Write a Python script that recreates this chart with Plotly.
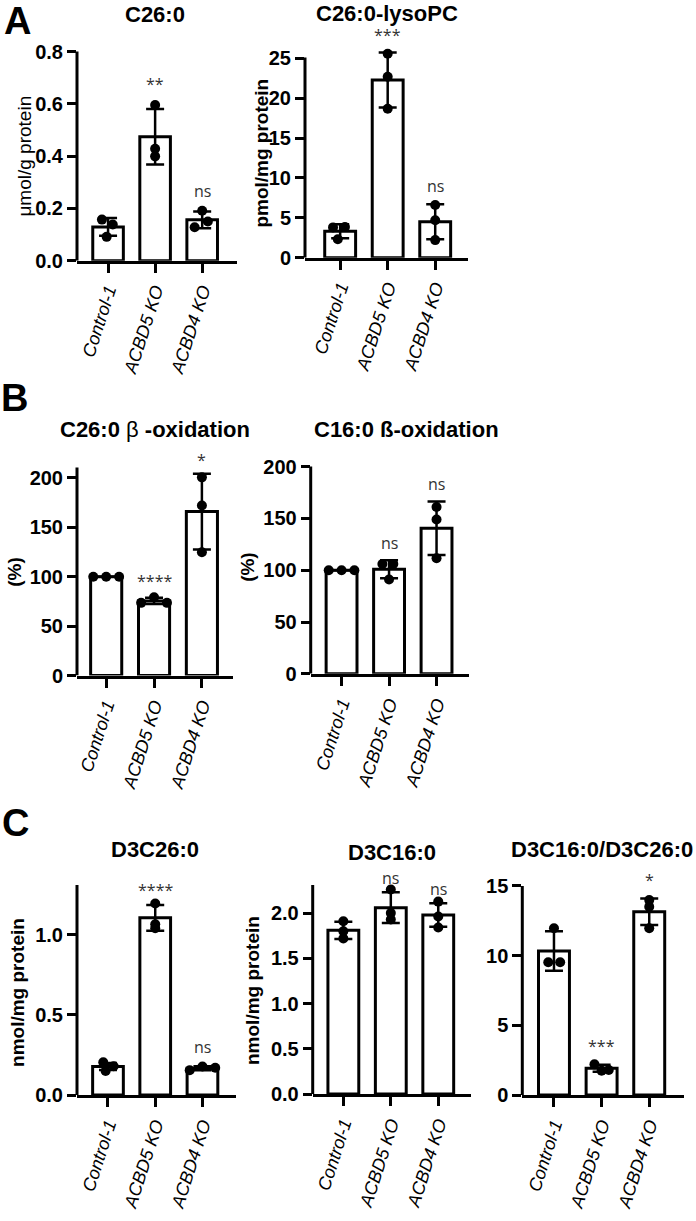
import plotly.graph_objects as go

# ---------------- data ----------------
groups = ["Control-1", "ACBD5 KO", "ACBD4 KO"]

# A: C26:0 (µmol/g protein)
c26_mean = [0.129, 0.474, 0.156]
c26_sd = [0.034, 0.106, 0.032]
c26_pts = [[0.157, 0.138, 0.091], [0.595, 0.428, 0.399], [0.128, 0.191, 0.150]]

# A: C26:0-lysoPC (pmol/mg protein)
lyso_mean = [3.32, 22.3, 4.5]
lyso_sd = [0.88, 3.45, 2.2]
lyso_pts = [[3.8, 3.85, 2.3], [25.6, 22.7, 18.7], [6.6, 4.7, 2.2]]

# B: C26:0 beta-oxidation (%)
box26_mean = [100, 75.5, 166]
box26_sd = [0, 3.2, 38.3]
box26_pts = [[100, 100, 100], [73.6, 79.2, 73.6], [200.6, 172.2, 124.8]]

# B: C16:0 beta-oxidation (%)
box16_mean = [100, 101, 140.5]
box16_sd = [0, 8.7, 25.8]
box16_pts = [[100, 100, 100], [106, 106, 91], [161, 149, 111.6]]

# C: D3C26:0 (nmol/mg protein)
d26_mean = [0.178, 1.105, 0.167]
d26_sd = [0.022, 0.08, 0.012]
d26_pts = [[0.205, 0.18, 0.15], [1.195, 1.065, 1.04], [0.155, 0.178, 0.17]]

# C: D3C16:0 (nmol/mg protein)
d16_mean = [1.81, 2.06, 1.98]
d16_sd = [0.095, 0.17, 0.13]
d16_pts = [[1.91, 1.80, 1.72], [2.26, 2.0, 1.93], [2.127, 1.963, 1.84]]

# C: D3C16:0/D3C26:0 ratio
ratio_mean = [10.33, 1.92, 13.15]
ratio_sd = [1.41, 0.25, 0.95]
ratio_pts = [[11.96, 9.52, 9.52], [2.2, 1.75, 1.8], [13.98, 13.5, 11.96]]

# significance labels (group index, text)
c26_sig = [(1, "**"), (2, "ns")]
lyso_sig = [(1, "***"), (2, "ns")]
box26_sig = [(1, "****"), (2, "*")]
box16_sig = [(1, "ns"), (2, "ns")]
d26_sig = [(1, "****"), (2, "ns")]
d16_sig = [(1, "ns"), (2, "ns")]
ratio_sig = [(1, "***"), (2, "*")]

# ---------------- layout helpers ----------------
W, H = 696, 1221
FONT = "Liberation Sans, Arial, sans-serif"
SIGFONT = "Open Sans, Liberation Sans, sans-serif"


def fx(p):
    return p / W


def fy(p):
    return 1 - p / H


# y0: pixel row of value 0, ppu: pixels per unit, top: value where the
# drawn y-axis line ends, ymax: range max (room for labels)
panels = [
    dict(mean=c26_mean, sd=c26_sd, pts=c26_pts, sig=c26_sig, sig_y=[0.675, 0.265],
         jit=[[-0.13, 0.10, -0.03], [0, 0, 0], [-0.16, 0, 0.12]],
         xpx=(77, 237), xr=(-0.66, 2.74), y0=263, ppu=263.75, top=0.8, ymax=0.88,
         tv=[0, 0.2, 0.4, 0.6, 0.8], tf=".1f"),
    dict(mean=lyso_mean, sd=lyso_sd, pts=lyso_pts, sig=lyso_sig, sig_y=[28.0, 9.0],
         jit=[[-0.15, 0.10, -0.05], [0, 0, 0], [0, 0, 0]],
         xpx=(305, 468), xr=(-0.74, 2.69), y0=260, ppu=8.04, top=25.12, ymax=29.5,
         tv=[0, 5, 10, 15, 20, 25], tf="d"),
    dict(mean=box26_mean, sd=box26_sd, pts=box26_pts, sig=box26_sig, sig_y=[96, 218],
         jit=[[-0.27, 0, 0.27], [-0.27, 0, 0.27], [0, 0, 0]],
         xpx=(77, 233), xr=(-0.61, 2.65), y0=681.7, ppu=0.997, top=210.6, ymax=228,
         tv=[0, 50, 100, 150, 200], tf="d"),
    dict(mean=box16_mean, sd=box16_sd, pts=box16_pts, sig=box16_sig, sig_y=[126, 183],
         jit=[[-0.27, 0, 0.27], [-0.14, 0.09, 0], [0, 0, 0]],
         xpx=(310.7, 469.3), xr=(-0.65, 2.69), y0=680, ppu=1.046, top=200, ymax=212,
         tv=[0, 50, 100, 150, 200], tf="d"),
    dict(mean=d26_mean, sd=d26_sd, pts=d26_pts, sig=d26_sig, sig_y=[1.28, 0.30],
         jit=[[-0.10, 0.12, -0.05], [0, 0, 0], [-0.27, 0, 0.27]],
         xpx=(77, 236), xr=(-0.656, 2.71), y0=1105, ppu=161.8, top=1.31, ymax=1.38,
         tv=[0, 0.5, 1.0], tf=".1f"),
    dict(mean=d16_mean, sd=d16_sd, pts=d16_pts, sig=d16_sig, sig_y=[2.39, 2.27],
         jit=[[0, 0, 0], [0, 0, 0], [0, 0, 0]],
         xpx=(312.7, 471), xr=(-0.646, 2.69), y0=1104, ppu=91.3, top=2.31, ymax=2.47,
         tv=[0, 0.5, 1.0, 1.5, 2.0], tf=".1f"),
    dict(mean=ratio_mean, sd=ratio_sd, pts=ratio_pts, sig=ratio_sig, sig_y=[3.5, 15.4],
         jit=[[0, -0.12, 0.13], [-0.15, 0, 0.15], [0, 0, 0]],
         xpx=(522.3, 684), xr=(-0.665, 2.73), y0=1105, ppu=14.07, top=15, ymax=16.2,
         tv=[0, 5, 10, 15], tf="d"),
]

fig = go.Figure()
annotations = []
shapes = []
layout_axes = {}

for i, p in enumerate(panels, start=1):
    xa = "x" if i == 1 else f"x{i}"
    ya = "y" if i == 1 else f"y{i}"
    xkey = "xaxis" if i == 1 else f"xaxis{i}"
    ykey = "yaxis" if i == 1 else f"yaxis{i}"

    fig.add_trace(go.Bar(
        x=[0, 1, 2], y=p["mean"], width=0.65,
        marker=dict(color="white", line=dict(color="black", width=3)),
        error_y=dict(type="data", array=p["sd"], visible=True,
                     color="black", thickness=2.5, width=9),
        xaxis=xa, yaxis=ya, cliponaxis=False, hoverinfo="skip",
    ))
    xs, ys = [], []
    for g in range(3):
        for k, v in enumerate(p["pts"][g]):
            xs.append(g + p["jit"][g][k])
            ys.append(v)
    fig.add_trace(go.Scatter(
        x=xs, y=ys, mode="markers",
        marker=dict(color="black", size=10),
        xaxis=xa, yaxis=ya, cliponaxis=False, hoverinfo="skip",
    ))

    top_px = p["y0"] - p["ymax"] * p["ppu"]
    layout_axes[xkey] = dict(
        domain=[fx(p["xpx"][0]), fx(p["xpx"][1])], range=list(p["xr"]),
        anchor=ya, showline=True, linecolor="black", linewidth=3,
        ticks="outside", ticklen=9, tickwidth=3, tickcolor="black",
        tickvals=[0, 1, 2], ticktext=groups, tickangle=-72,
        tickfont=dict(family=FONT, size=18, color="black", style="italic"),
        showgrid=False, zeroline=False, fixedrange=True,
    )
    layout_axes[ykey] = dict(
        domain=[fy(p["y0"]), fy(top_px)], range=[0, p["ymax"]],
        anchor=xa, showline=False,
        ticks="outside", ticklen=9, tickwidth=3, tickcolor="black",
        tickvals=p["tv"], tickformat=p["tf"],
        tickfont=dict(family=FONT, size=20, color="black", weight="bold"),
        showgrid=False, zeroline=False, fixedrange=True,
    )
    # y-axis line only up to the reference axis top
    shapes.append(dict(
        type="line", xref=f"{xa} domain", yref=ya,
        x0=0, x1=0, y0=0, y1=p["top"],
        line=dict(color="black", width=3),
    ))

    for (g, txt), yv in zip(p["sig"], p["sig_y"]):
        annotations.append(dict(
            x=g, y=yv, xref=xa, yref=ya, text=txt, showarrow=False,
            xanchor="center", yanchor="middle",
            font=dict(family=SIGFONT, size=16, color="#333333"),
        ))

# titles
titles = [
    ("<b>C26:0</b>", 155, 15),
    ("<b>C26:0-lysoPC</b>", 387, 14),
    ("<b>C26:0 </b>β<b> -oxidation</b>", 155, 433),
    ("<b>C16:0 ß-oxidation</b>", 406, 433),
    ("<b>D3C26:0</b>", 155, 857),
    ("<b>D3C16:0</b>", 392, 860),
    ("<b>D3C16:0/D3C26:0</b>", 602, 857),
]
for txt, x, y in titles:
    annotations.append(dict(
        x=fx(x), y=fy(y), xref="paper", yref="paper", text=txt, showarrow=False,
        xanchor="center", yanchor="middle",
        font=dict(family=FONT, size=22, color="black"),
    ))

# y-axis titles
ytitles = [
    ("μmol/g protein", 25, 158),
    ("<b>pmol/mg protein</b>", 262, 155),
    ("<b>(%)</b>", 15, 577),
    ("<b>(%)</b>", 248, 572),
    ("<b>nmol/mg protein</b>", 18, 1002),
    ("<b>nmol/mg protein</b>", 253, 1000),
]
for txt, x, y in ytitles:
    annotations.append(dict(
        x=fx(x), y=fy(y), xref="paper", yref="paper", text=txt, showarrow=False,
        xanchor="center", yanchor="middle", textangle=-90,
        font=dict(family=FONT, size=19, color="black"),
    ))

# panel letters
for txt, x, y in [("A", 17, 21), ("B", 14, 402), ("C", 15, 830)]:
    annotations.append(dict(
        x=fx(x), y=fy(y), xref="paper", yref="paper", text=f"<b>{txt}</b>",
        showarrow=False, xanchor="center", yanchor="middle",
        font=dict(family=FONT, size=38, color="black"),
    ))

fig.update_layout(
    width=W, height=H, margin=dict(l=0, r=0, t=0, b=0),
    paper_bgcolor="white", plot_bgcolor="white", showlegend=False,
    annotations=annotations, shapes=shapes, **layout_axes,
)

fig.write_html(
    "out.html",
    config={"displayModeBar": False},
    post_script="document.body.style.margin='0px';document.body.style.overflow='hidden';",
)
